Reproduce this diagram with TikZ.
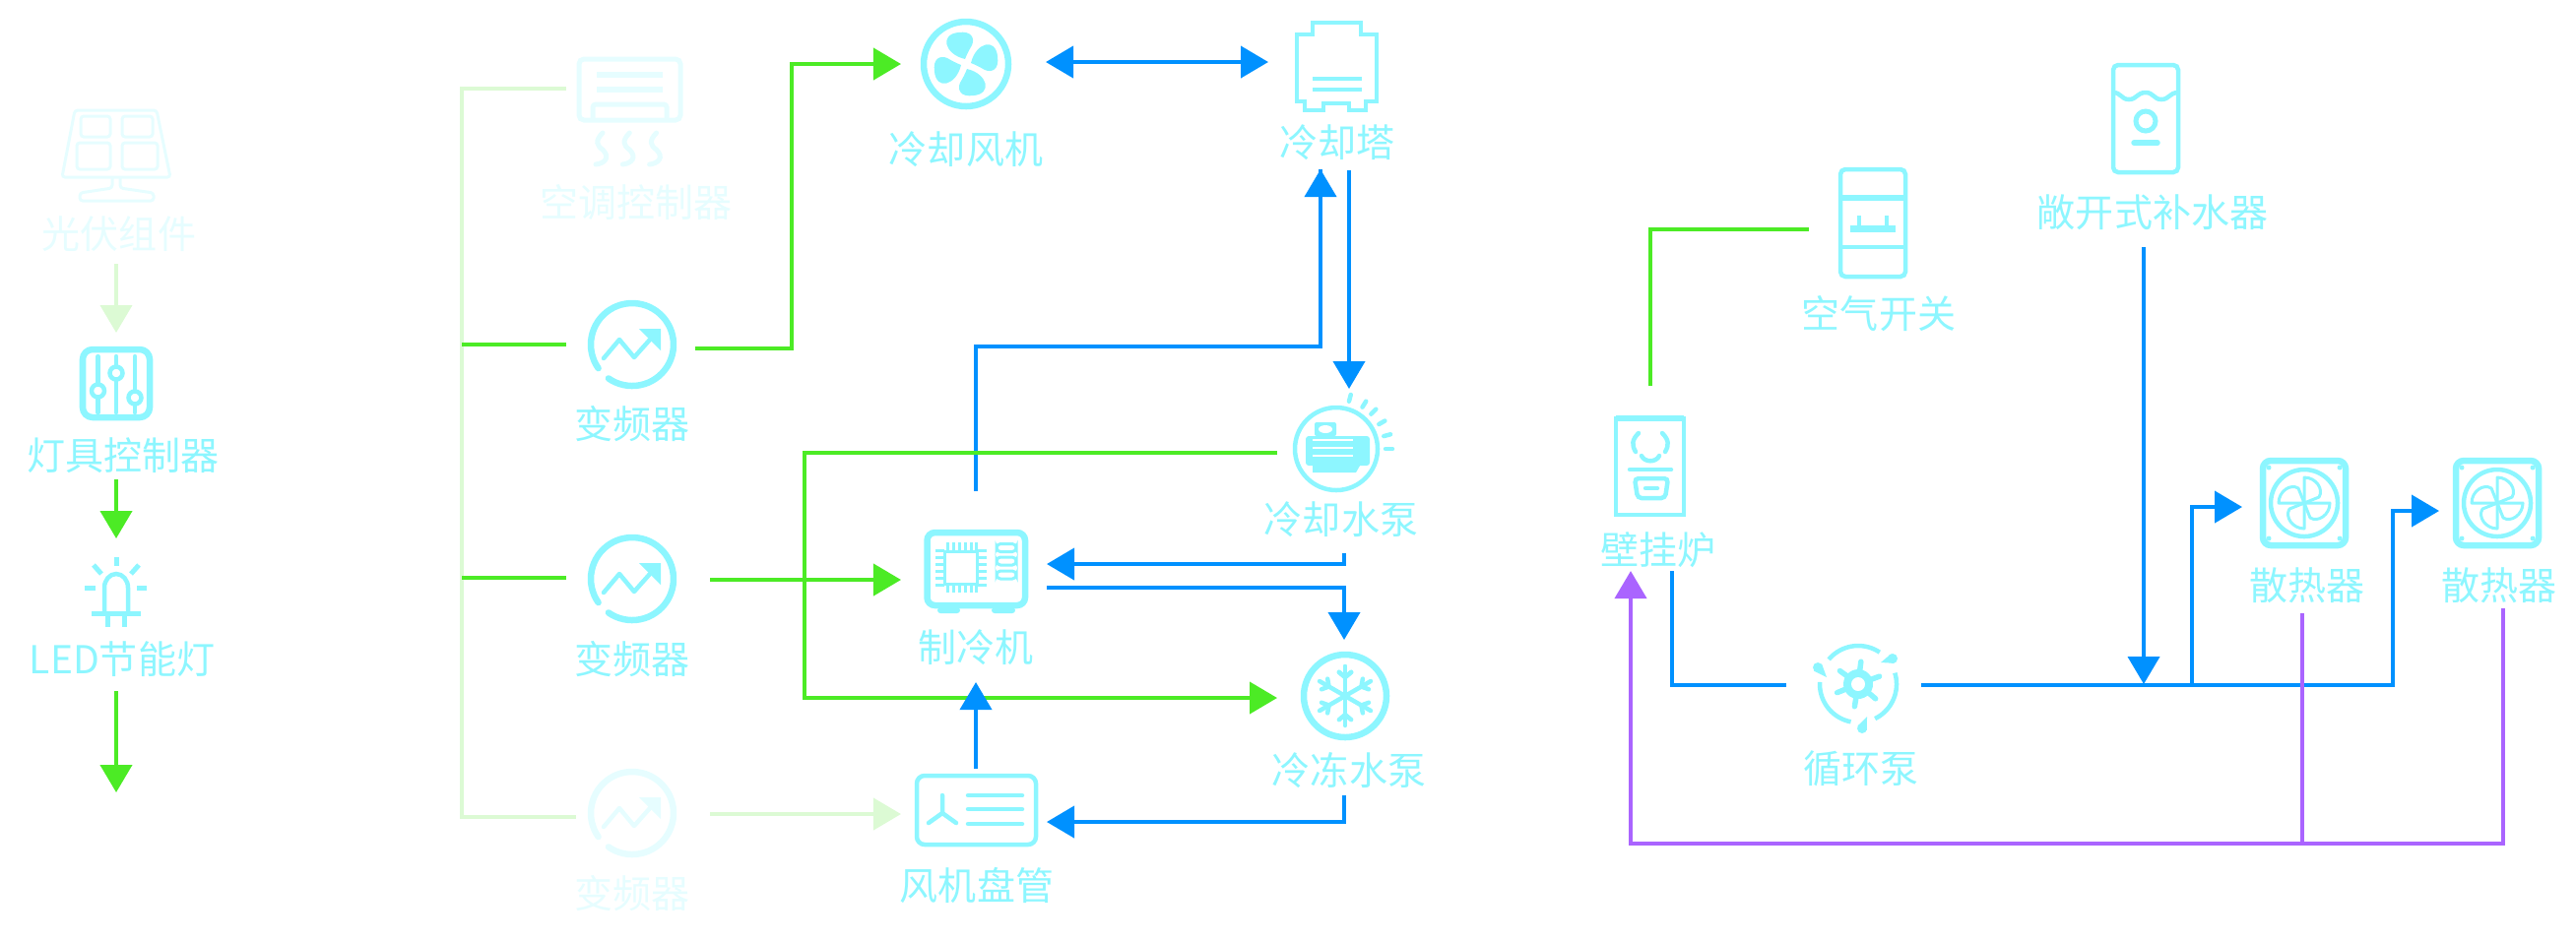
\documentclass[tikz,border=0pt]{standalone}
\usepackage{fontspec}
\usetikzlibrary{arrows.meta,calc}
\newfontfamily\cjkfont{Noto Sans CJK SC}
\definecolor{devcyan}{HTML}{8DF6FF}
\definecolor{devfade}{HTML}{E6FDFF}
\definecolor{linegreen}{HTML}{4CEB25}
\definecolor{linefade}{HTML}{DCFAD4}
\definecolor{lineblue}{HTML}{0091FF}
\definecolor{linepurple}{HTML}{AA64FF}
\tikzset{
  lbl/.style={text=devcyan,font=\cjkfont\fontsize{11.1}{13}\selectfont,inner sep=0pt},
  lblfade/.style={lbl,text=devfade},
  wire/.style={line width=.04cm},
  head/.style={-{Triangle[length=.28cm,width=.32cm]}},
  greenline/.style={wire,draw=linegreen},
  fadeline/.style={wire,draw=linefade},
  blueline/.style={wire,draw=lineblue},
  purpleline/.style={wire,draw=linepurple},
  ring/.style={line width=.065cm},
  thin icon/.style={line width=.045cm},
  fine icon/.style={line width=.03cm}
}
\newcommand{\vfdicon}[3]{
	\begin{scope}[shift={(#1,#2)},draw=#3,fill=#3]
		\draw[ring,line cap=round] plot[domain=145:485,samples=60] ({42*cos(\x)},{42*sin(\x)});
		\draw[thin icon,line cap=round,line join=round] (-29,14) -- (-13,-5) -- (2,13) -- (18,-5);
		\fill (7,-16) -- (29,-16) -- (29,6) -- cycle;
	\end{scope}
}
\newcommand{\radicon}[2]{
	\begin{scope}[shift={(#1,#2)},draw=devcyan,fill=devcyan]
		\draw[ring,rounded corners=.08cm] (-42,-43) rectangle (42,43);
		\draw[thin icon] (0,0) circle (34);
		\foreach \sx/\sy in {-36/-36,36/-36,-36/36,36/36}
			\fill (\sx,\sy) circle (2.5);
		\foreach \a in {0,90,180,270}
			\draw[fine icon,rotate=\a,line join=round] (0,0) -- (0,-26) .. controls (12,-26) and (20,-14) .. (15,-6) -- cycle;
	\end{scope}
}

\begin{document}
\begin{tikzpicture}[x=.01cm,y=-.01cm]
	\useasboundingbox (0,0) rectangle (2616,956);

	% labels
	\node[lblfade] (pvlabel) at (121,238) {光伏组件};
	\node[lbl] (ctllabel) at (125,463) {灯具控制器};
	\node[lbl] (ledlabel) at (124,670) {LED节能灯};
	\node[lblfade] (aclabel) at (646,206) {空调控制器};
	\node[lbl] (vfdalabel) at (642,431) {变频器};
	\node[lbl] (vfdblabel) at (642,670) {变频器};
	\node[lblfade] (vfdclabel) at (642,908) {变频器};
	\node[lbl] (fanlabel) at (981,152) {冷却风机};
	\node[lbl] (towerlabel) at (1358,145) {冷却塔};
	\node[lbl] (cwplabel) at (1362,528) {冷却水泵};
	\node[lbl] (chillerlabel) at (991,658) {制冷机};
	\node[lbl] (chwplabel) at (1370,783) {冷冻水泵};
	\node[lbl] (fculabel) at (992,899) {风机盘管};
	\node[lbl] (boilerlabel) at (1684,559) {壁挂炉};
	\node[lbl] (switchlabel) at (1908,319) {空气开关};
	\node[lbl] (tanklabel) at (2186,216) {敞开式补水器};
	\node[lbl] (pumplabel) at (1890,781) {循环泵};
	\node[lbl] (rada) at (2343,595) {散热器};
	\node[lbl] (radb) at (2538,595) {散热器};

	% solar panel
	\begin{scope}[draw=devfade,fine icon,rounded corners=.03cm]
		\draw (76,112) -- (159,112) -- (173,180) -- (63,180) -- cycle;
		\draw (82,118) rectangle (112,139);
		\draw (124,118) rectangle (155,139);
		\draw (78,145) rectangle (112,172);
		\draw (124,145) rectangle (160,172);
		\draw (114,180) -- (114,191) -- (81,196) -- (81,204) -- (156,204) -- (156,196) -- (122,191) -- (122,180);
	\end{scope}
	% lamp controller
	\begin{scope}[draw=devcyan]
		\draw[ring,rounded corners=.1cm] (84,355) rectangle (152,424);
		\foreach \sx/\sy in {99.5/397,118/379,137/404} {
			\draw[thin icon,line cap=round] (\sx,362) -- (\sx,419);
			\draw[thin icon,fill=white] (\sx,\sy) circle (6.5);
		}
	\end{scope}
	% led
	\begin{scope}[draw=devcyan,line width=.05cm]
		\draw[thin icon] (106,623) -- (106,597) arc (180:360:12 and 14) -- (130,623);
		\draw (93,623) -- (143,623);
		\draw (109.5,623) -- (109.5,637);
		\draw (126.5,623) -- (126.5,637);
		\draw (118,566) -- (118,575);
		\draw (86,597) -- (97,597);
		\draw (139,597) -- (149,597);
		\draw (95,574) -- (103,583);
		\draw (141,574) -- (133,583);
	\end{scope}
	% air conditioner
	\begin{scope}[draw=devfade,line width=.05cm]
		\draw[rounded corners=.05cm] (588,60) rectangle (691,122);
		\draw[line width=.06cm] (606,76) -- (673,76);
		\draw[line width=.06cm] (606,91) -- (673,91);
		\draw[rounded corners=.03cm] (602,122) -- (602,106) -- (677,106) -- (677,122);
		\foreach \sx in {0,27.3,54.6}
			\draw[line cap=round,xshift=\sx*.01cm] (612,135) .. controls (604,143) and (606,148) .. (612,152) .. controls (620,160) and (614,166) .. (605,167);
	\end{scope}
	\vfdicon{642}{350}{devcyan}
	\vfdicon{642}{588}{devcyan}
	\vfdicon{642}{826}{devfade}
	% fan
	\begin{scope}[shift={(981,65)},draw=devcyan,fill=devcyan]
		\draw[ring] (0,0) circle (43);
		\foreach \a in {0,90,180,270}
			\fill[rotate=\a] (-1,-5) .. controls (-22,-10) and (-27,-30) .. (-8,-32) .. controls (6,-34) and (9,-26) .. (6,-19) .. controls (3,-14) and (1,-10) .. (-1,-5) -- cycle;
		\fill[white] (0,0) circle (3);
	\end{scope}
	% cooling tower
	\begin{scope}[draw=devcyan,thin icon]
		\draw (1333,23) -- (1382,23) -- (1382,35) -- (1398,35) -- (1398,103) -- (1387,103) -- (1387,112) -- (1370,112) -- (1370,105) -- (1344,105) -- (1344,112) -- (1325,112) -- (1325,103) -- (1317,103) -- (1317,35) -- (1333,35) -- cycle;
		\draw (1333,80) -- (1383,80);
		\draw (1333,91) -- (1383,91);
	\end{scope}
	% cooling water pump
	\begin{scope}[shift={(1357,456)},draw=devcyan,fill=devcyan]
		\draw[thin icon] (0,0) circle (42);
		\foreach \a in {-75,-58,-45,-30,-15,0}
			\draw[thin icon,line cap=round] (\a:50) -- (\a:57);
		\fill[rounded corners=.03cm] (-31,-13) rectangle (34,17);
		\fill (-24,17) -- (24,17) -- (20,24) -- (-24,24) -- cycle;
		\fill[rounded corners=.02cm] (-22,-27) rectangle (0,-13);
		\fill[white] (-11,-20) ellipse (7 and 4);
		\foreach \sy in {-9,-1,7}
			\draw[white,line width=.02cm] (-24,\sy) -- (17,\sy);
	\end{scope}
	% chiller
	\begin{scope}[draw=devcyan,fill=devcyan]
		\draw[ring,rounded corners=.08cm] (941.5,615) -- (941.5,541) -- (1041,541) -- (1041,615) -- cycle;
		\draw[fine icon] (959,560) rectangle (992.5,593);
		\foreach \sx in {962,968,974,980,986,991} {
			\draw[fine icon] (\sx,551) -- (\sx,560);
			\draw[fine icon] (\sx,593) -- (\sx,602);
		}
		\foreach \sy in {559,566,573,580,587,594} {
			\draw[fine icon] (950,\sy) -- (959,\sy);
			\draw[fine icon] (992.5,\sy) -- (1001.5,\sy);
		}
		\foreach \sy in {556.5,570,584}
			\draw[fine icon,rounded corners=.04cm] (1012,\sy-4) rectangle (1032,\sy+4);
		\fill[rounded corners=.03cm] (952,617) rectangle (975,623);
		\fill[rounded corners=.03cm] (1007,617) rectangle (1031,623);
	\end{scope}
	% chilled water pump
	\begin{scope}[shift={(1366,707)},draw=devcyan]
		\draw[ring] (0,0) circle (42);
		\foreach \a in {-90,-30,...,270} {
			\draw[thin icon,line cap=round] (0,0) -- (\a:30);
			\draw[thin icon,line cap=round] ($(\a:19)+(\a+50:8)$) -- (\a:19) -- ($(\a:19)+(\a-50:8)$);
		}
	\end{scope}
	% fan coil
	\begin{scope}[draw=devcyan,thin icon]
		\draw[rounded corners=.08cm] (931,788) rectangle (1052,858);
		\draw[line cap=round] (983,808) -- (1038,808);
		\draw[line cap=round] (983,822) -- (1038,822);
		\draw[line cap=round] (983,837) -- (1038,837);
		\draw[line cap=round] (957,808) -- (957,826) -- (943,836);
		\draw[line cap=round] (957,826) -- (971,836);
	\end{scope}
	% wall boiler
	\begin{scope}[draw=devcyan,thin icon]
		\draw (1641,425) rectangle (1710,523);
		\draw[line width=.06cm] (1641,425) -- (1710,425);
		\draw[line cap=round] (1664,440) .. controls (1657,447) and (1657,452) .. (1661,459);
		\draw[line cap=round] (1688,440) .. controls (1695,447) and (1695,452) .. (1691,459);
		\draw[line cap=round] (1667,463) .. controls (1670,470) and (1682,470) .. (1685,463);
		\draw[line cap=round] (1655,477) -- (1697,477);
		\draw[rounded corners=.04cm] (1660,486) -- (1694,486) -- (1691,506) -- (1663,506) -- cycle;
		\draw[line cap=round] (1671,496) -- (1683,496);
	\end{scope}
	% air switch
	\begin{scope}[draw=devcyan,fill=devcyan,thin icon]
		\draw[rounded corners=.05cm] (1869,172) rectangle (1935,281);
		\draw[line width=.055cm] (1869,201) -- (1935,201);
		\draw (1869,251) -- (1935,251);
		\fill (1879,229) rectangle (1925,236);
		\draw (1888,219) -- (1888,230);
		\draw (1916,219) -- (1916,230);
	\end{scope}
	% makeup tank
	\begin{scope}[draw=devcyan,thin icon]
		\draw[rounded corners=.05cm] (2146,66) rectangle (2212,175);
		\draw (2146,94) .. controls (2154,94) and (2154,101) .. (2162,101) .. controls (2170,101) and (2170,94) .. (2179,94) .. controls (2187,94) and (2187,101) .. (2195,101) .. controls (2203,101) and (2203,94) .. (2212,94);
		\draw[line width=.05cm] (2179,123) circle (10);
		\draw[line width=.055cm,line cap=round] (2167,145) -- (2191,145);
	\end{scope}
	% circulating pump
	\begin{scope}[shift={(1887,695)},draw=devcyan,fill=devcyan]
		\draw[thin icon] plot[domain=-140:-56,samples=20] ({39*cos(\x)},{39*sin(\x)});
		\draw[thin icon] plot[domain=-17:64,samples=20] ({39*cos(\x)},{39*sin(\x)});
		\draw[thin icon] plot[domain=101:183,samples=20] ({39*cos(\x)},{39*sin(\x)});
		\foreach \cx/\cy/\tx/\ty in {-41/-17/-32/-7,35/-26/23/-22,4/45/9/33} {
			\fill (\cx,\cy) circle (5);
			\fill ($(\cx,\cy)!.4!90:(\tx,\ty)$) -- (\tx,\ty) -- ($(\cx,\cy)!.4!-90:(\tx,\ty)$) -- cycle;
		}
		\foreach \a in {-83,-20,40,99,158,-144}
			\draw[line width=.055cm,line cap=round] (0,0) -- (\a:23);
		\fill (0,0) circle (15);
		\fill[white] (0,0) circle (7);
	\end{scope}
	\radicon{2340}{511}
	\radicon{2536}{511}

	% connector ends
	\coordinate (pvout) at (118,268);
	\coordinate (ctlin) at (118,338);
	\coordinate (ctlout) at (118,487);
	\coordinate (ledin) at (118,547);
	\coordinate (ledout) at (118,702);
	\coordinate (ledend) at (118,805);
	\coordinate (bustop) at (469,90);
	\coordinate (busbot) at (469,830);
	\coordinate (acin) at (575,90);
	\coordinate (vfdain) at (575,350);
	\coordinate (vfdbin) at (575,587);
	\coordinate (vfdcin) at (585,830);
	\coordinate (buscross) at (469,350);
	\coordinate (buscrossb) at (469,587);
	\coordinate (vfdaout) at (706,354);
	\coordinate (vfdbout) at (721,589);
	\coordinate (vfdcout) at (721,827);
	\coordinate (fanbend) at (804,65);
	\coordinate (fanin) at (915,65);
	\coordinate (chillerin) at (915,589);
	\coordinate (fcuin) at (915,827);
	\coordinate (fanside) at (1062,63);
	\coordinate (towerside) at (1288,63);
	\coordinate (chillertop) at (991,499);
	\coordinate (towerbend) at (991,352);
	\coordinate (towerin) at (1341,172);
	\coordinate (towerout) at (1370,173);
	\coordinate (cwpin) at (1370,395);
	\coordinate (cwpout) at (1297,460);
	\coordinate (greenbend) at (817,709);
	\coordinate (chwpin) at (1297,709);
	\coordinate (cwpback) at (1365,562);
	\coordinate (chillerret) at (1063,573);
	\coordinate (chillerout) at (1063,597);
	\coordinate (chwptop) at (1365,650);
	\coordinate (fcutop) at (991,781);
	\coordinate (chillerbot) at (991,693);
	\coordinate (chwpout) at (1365,808);
	\coordinate (fcuret) at (1063,835);
	\coordinate (boilerup) at (1676,392);
	\coordinate (switchin) at (1837,233);
	\coordinate (tankout) at (2177,251);
	\coordinate (mainjoin) at (2177,695);
	\coordinate (boilerout) at (1698,580);
	\coordinate (pumpin) at (1814,696);
	\coordinate (pumpout) at (1951,696);
	\coordinate (mainend) at (2430,696);
	\coordinate (radbin) at (2477,519);
	\coordinate (branch) at (2226,696);
	\coordinate (radain) at (2277,515);
	\coordinate (radbout) at (2542,618);
	\coordinate (purplebend) at (2542,857);
	\coordinate (boilerin) at (1656,580);
	\coordinate (radaout) at (2338,623);
	\coordinate (purplejoin) at (2338,857);

	% lighting
	\draw[fadeline,head] (pvout) -- (ctlin);
	\draw[greenline,head] (ctlout) -- (ledin);
	\draw[greenline,head] (ledout) -- (ledend);

	% power bus
	\draw[fadeline] (acin) -- (bustop) -- (busbot) -- (vfdcin);
	\draw[fadeline,head] (vfdcout) -- (fcuin);
	\draw[greenline] (buscross) -- (vfdain);
	\draw[greenline] (buscrossb) -- (vfdbin);

	% water loop
	\draw[blueline] (chillertop) -- (towerbend) -| (towerin);
	\draw[blueline,{Triangle[length=.28cm,width=.32cm]}-{Triangle[length=.28cm,width=.32cm]}] (fanside) -- (towerside);
	\draw[blueline,head] (towerin) ++(0,27) -- (towerin);
	\draw[blueline,head] (towerout) -- (cwpin);
	\draw[blueline,head] (cwpback) |- (chillerret);
	\draw[blueline,head] (chillerout) -| (chwptop);
	\draw[blueline,head] (chwpout) |- (fcuret);

	% control
	\draw[greenline,head] (vfdaout) -| (fanbend) -- (fanin);
	\draw[greenline,head] (vfdbout) -- (chillerin);
	\draw[greenline,head] (cwpout) -| (greenbend) -- (chwpin);
	\draw[blueline,head] (fcutop) -- (chillerbot);

	% heating
	\draw[greenline] (boilerup) |- (switchin);
	\draw[blueline] (boilerout) |- (pumpin);
	\draw[blueline,head] (tankout) -- (mainjoin);
	\draw[blueline,head] (pumpout) -- (mainend) |- (radbin);
	\draw[blueline,head] (branch) |- (radain);
	\draw[purpleline,head] (radbout) -- (purplebend) -| (boilerin);
	\draw[purpleline] (radaout) -- (purplejoin);
\end{tikzpicture}
\end{document}
